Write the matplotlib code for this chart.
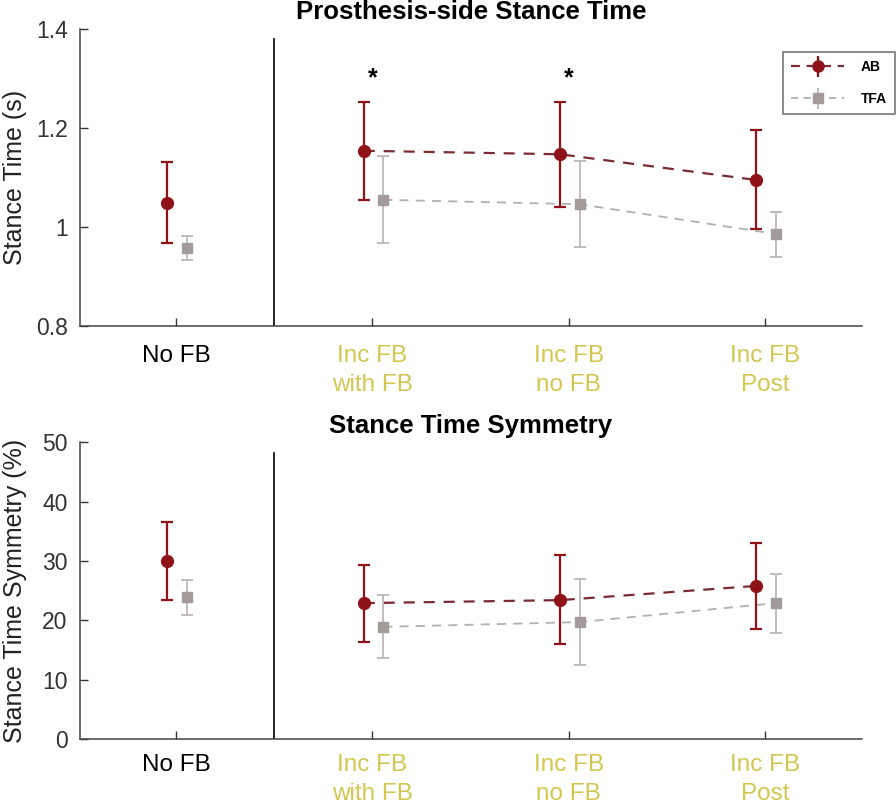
import matplotlib
matplotlib.use("Agg")
import matplotlib.pyplot as plt
from matplotlib.legend_handler import HandlerErrorbar
import numpy as np

plt.rcParams["font.family"] = ["Liberation Sans", "DejaVu Sans"]

conditions = ["No FB", "Inc FB\nwith FB", "Inc FB\nno FB", "Inc FB\nPost"]
label_colors = ["black", "#d2c74e", "#d2c74e", "#d2c74e"]

# Top panel: prosthesis-side stance time (s)
ab_st = [1.049, 1.154, 1.147, 1.095]
ab_st_lo = [0.967, 1.054, 1.041, 0.995]
ab_st_hi = [1.131, 1.252, 1.252, 1.195]
tfa_st = [0.957, 1.055, 1.046, 0.986]
tfa_st_lo = [0.934, 0.967, 0.960, 0.939]
tfa_st_hi = [0.981, 1.143, 1.133, 1.031]

# Bottom panel: stance time symmetry (%)
ab_sym = [30.0, 22.9, 23.4, 25.8]
ab_sym_lo = [23.4, 16.3, 16.0, 18.5]
ab_sym_hi = [36.5, 29.4, 31.0, 33.1]
tfa_sym = [23.9, 18.9, 19.7, 22.9]
tfa_sym_lo = [20.9, 13.6, 12.4, 17.9]
tfa_sym_hi = [26.8, 24.3, 27.0, 27.8]

sig_conditions = [1, 2]  # indices with asterisk

AB_C = "#8e1218"
AB_LINE = "#7a2a33"
TFA_C = "#a39a9c"
TFA_ERR = "#bdb6b6"
TFA_LINE = "#b0b0b0"

fig = plt.figure(figsize=(8.96, 8.08), dpi=100)
ax1 = fig.add_axes([0.0893, 0.5965, 0.8728, 0.3676])
ax2 = fig.add_axes([0.0893, 0.0854, 0.8728, 0.3672])

x = np.arange(1, len(conditions) + 1)
off_ab, off_tfa = -0.045, 0.055


def panel(ax, ab, ab_lo, ab_hi, tfa, tfa_lo, tfa_hi, ylim, yticks, yticklabels, ylabel, title, xpad):
    ab = np.array(ab); tfa = np.array(tfa)
    ab_err = [ab - np.array(ab_lo), np.array(ab_hi) - ab]
    tfa_err = [tfa - np.array(tfa_lo), np.array(tfa_hi) - tfa]
    # dashed connecting lines for the incremental-feedback conditions
    ax.plot(x[1:] + off_ab, ab[1:], ls=(0, (5, 4)), color=AB_LINE, lw=1.6, zorder=2)
    ax.plot(x[1:] + off_tfa, tfa[1:], ls=(0, (5, 4)), color=TFA_LINE, lw=1.3, zorder=2)
    ax.errorbar(x + off_ab, ab, yerr=ab_err, fmt="o", color=AB_C, ecolor=AB_C,
                ms=8.5, capsize=4, elinewidth=1.6, capthick=1.6, zorder=4)
    ax.errorbar(x + off_tfa, tfa, yerr=tfa_err, fmt="s", color=TFA_C, ecolor=TFA_ERR,
                ms=7, capsize=4, elinewidth=1.3, capthick=1.3, zorder=3)
    ax.axvline(1.5, ymin=0, ymax=0.965, color="black", lw=1.2)
    ax.set_xlim(0.51, 4.494)
    ax.set_ylim(*ylim)
    ax.set_yticks(yticks)
    ax.set_yticklabels(yticklabels)
    ax.set_xticks(x)
    ax.set_xticklabels(conditions, linespacing=1.4)
    ax.tick_params(direction="in", length=6, width=1, colors="#333333", labelsize=16.5, pad=9)
    ax.tick_params(axis="x", pad=xpad, labelsize=17.5)
    for lbl, c in zip(ax.get_xticklabels(), label_colors):
        lbl.set_color(c)
    for s in ["top", "right"]:
        ax.spines[s].set_visible(False)
    for s in ["left", "bottom"]:
        ax.spines[s].set_color("#444444")
        ax.spines[s].set_linewidth(1.1)
    ax.set_ylabel(ylabel, fontsize=18, color="#222222")
    ax.yaxis.set_label_coords(-0.068, 0.5)
    ax.set_title(title, fontsize=18.5, fontweight="bold", pad=7)


panel(ax1, ab_st, ab_st_lo, ab_st_hi, tfa_st, tfa_st_lo, tfa_st_hi,
      (0.8, 1.4), [0.8, 1.0, 1.2, 1.4], ["0.8", "1", "1.2", "1.4"],
      "Stance Time (s)", "Prosthesis-side Stance Time", 14)
panel(ax2, ab_sym, ab_sym_lo, ab_sym_hi, tfa_sym, tfa_sym_lo, tfa_sym_hi,
      (0, 50), [0, 10, 20, 30, 40, 50], ["0", "10", "20", "30", "40", "50"],
      "Stance Time Symmetry (%)", "Stance Time Symmetry", 11)

for i in sig_conditions:
    ax1.text(x[i], 1.30, "*", ha="center", va="center", fontsize=18, fontweight="bold")

# legend
h_ab = ax1.errorbar([], [], yerr=[], fmt="o", color=AB_C, ecolor=AB_C, ms=8, capsize=4,
                    ls=(0, (4, 3)), lw=1.6, capthick=1.6, elinewidth=1.6)
h_tfa = ax1.errorbar([], [], yerr=[], fmt="s", color=TFA_C, ecolor=TFA_ERR, ms=7, capsize=4,
                     ls=(0, (4, 3)), lw=1.3, capthick=1.3, elinewidth=1.3)
h_ab.lines[0].set_color(AB_LINE); h_ab.lines[0].set_markerfacecolor(AB_C); h_ab.lines[0].set_markeredgecolor(AB_C)
h_tfa.lines[0].set_color(TFA_LINE); h_tfa.lines[0].set_markerfacecolor(TFA_C); h_tfa.lines[0].set_markeredgecolor(TFA_C)
leg = ax1.legend([h_ab, h_tfa], ["AB", "TFA"], loc="upper right",
                 bbox_to_anchor=(0.999, 0.936), bbox_transform=fig.transFigure,
                 prop={"weight": "bold", "size": 10}, frameon=True, fancybox=False,
                 edgecolor="#555555", handlelength=3.8, borderpad=0.6, labelspacing=1.3,
                 handletextpad=1.2, borderaxespad=0,
                 handler_map={type(h_ab): HandlerErrorbar(yerr_size=0.75)})
leg.get_frame().set_linewidth(1.2)

fig.savefig("out.png", dpi=100)
